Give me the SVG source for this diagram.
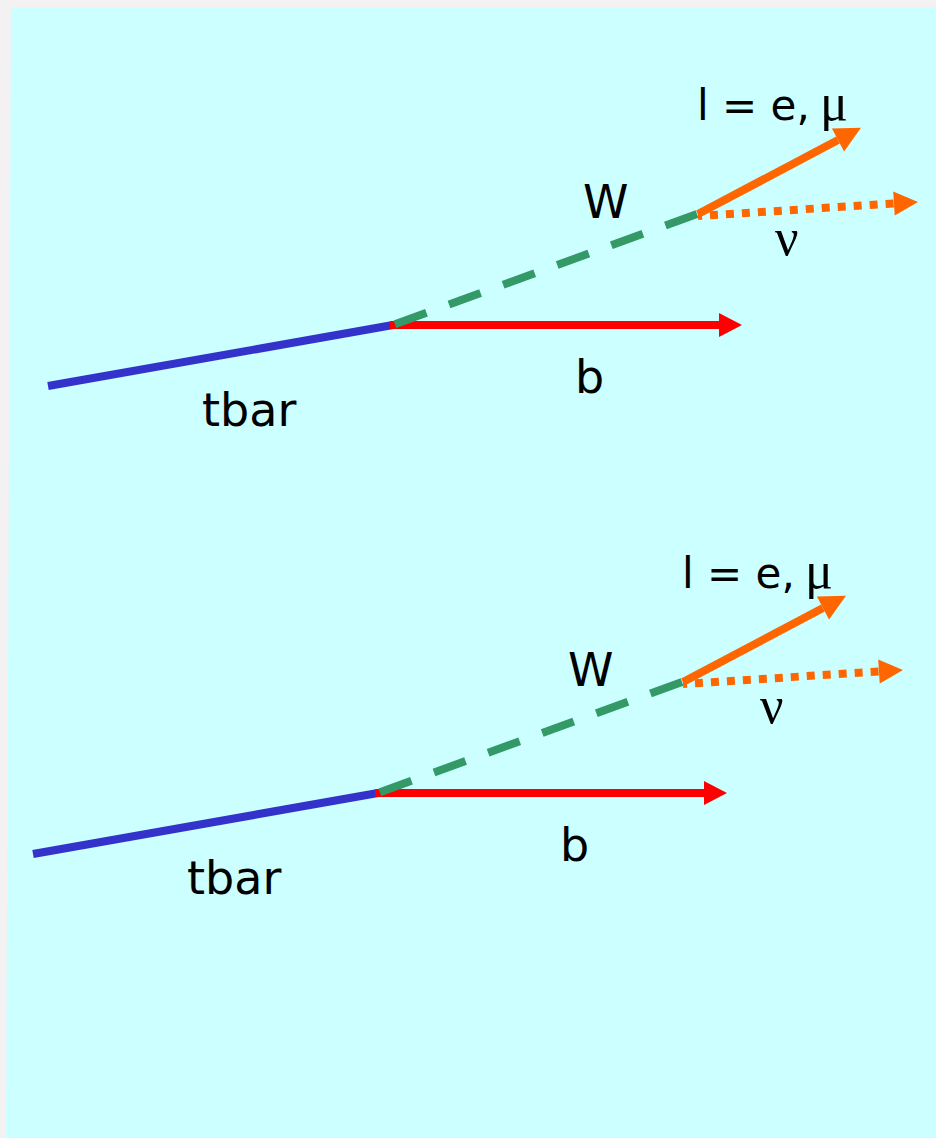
<svg xmlns="http://www.w3.org/2000/svg" xmlns:xlink="http://www.w3.org/1999/xlink" width="936" height="1138" viewBox="0 0 936 1138">
<style>
.t{fill:#000;font-family:"DejaVu Sans","Noto Sans",sans-serif;font-size:46px}
.e{font-size:42px}
.g{font-family:"Liberation Serif","DejaVu Serif",serif;font-size:52px}
.top{stroke:#3333CC;stroke-width:8;fill:none}
.b{stroke:#FF0000;stroke-width:8;fill:none}
.w{stroke:#339966;stroke-width:8;fill:none;stroke-dasharray:33.6 24}
.l{stroke:#FF6600;stroke-width:8;fill:none}
.n{stroke:#FF6600;stroke-width:8;fill:none;stroke-dasharray:8 8;stroke-dashoffset:4}
</style>
<defs>
<marker id="hr" markerUnits="userSpaceOnUse" markerWidth="24" markerHeight="24" refX="0" refY="12" orient="auto" overflow="visible"><path d="M0,0 L23,12 L0,24 Z" fill="#FF0000"/></marker>
<marker id="ho" markerUnits="userSpaceOnUse" markerWidth="27" markerHeight="26" refX="0" refY="13" orient="auto" overflow="visible"><path d="M0,0 L26,13 L0,26 Z" fill="#FF6600"/></marker>
<marker id="hn" markerUnits="userSpaceOnUse" markerWidth="25" markerHeight="24" refX="0" refY="12" orient="auto" overflow="visible"><path d="M0,0 L24,12 L0,24 Z" fill="#FF6600"/></marker>
</defs>
<rect x="0" y="0" width="936" height="1138" fill="#F3F1F2"/>
<polygon points="11,7 936,7 936,1138 6,1138" fill="#CCFFFF"/>
<g id="diagram1">
<g id="connectors1">
<line class="top" x1="48" y1="386" x2="393" y2="325"/>
<line class="b" x1="390" y1="325" x2="719" y2="325" marker-end="url(#hr)"/>
<line class="w" x1="697" y1="214" x2="393" y2="325"/>
<line class="n" x1="698" y1="216" x2="894" y2="203.5" marker-end="url(#hn)"/>
<line class="l" x1="698" y1="214" x2="838" y2="140" marker-end="url(#ho)"/>
</g>
<g id="lepton1"><text class="t e" x="697" y="120">l = e,</text><text class="t g" x="820" y="120">μ</text></g>
<g id="W1"><text class="t" x="583" y="218">W</text></g>
<g id="nu1"><text class="t g" x="775" y="255">ν</text></g>
<g id="b1"><text class="t" x="575" y="393">b</text></g>
<g id="tbar1"><text class="t" x="202" y="426">tbar</text></g>
</g>
<g id="diagram2" transform="translate(-15,468)">
<g id="connectors2">
<line class="top" x1="48" y1="386" x2="393" y2="325"/>
<line class="b" x1="390" y1="325" x2="719" y2="325" marker-end="url(#hr)"/>
<line class="w" x1="697" y1="214" x2="393" y2="325"/>
<line class="n" x1="698" y1="216" x2="894" y2="203.5" marker-end="url(#hn)"/>
<line class="l" x1="698" y1="214" x2="838" y2="140" marker-end="url(#ho)"/>
</g>
<g id="lepton2"><text class="t e" x="697" y="120">l = e,</text><text class="t g" x="820" y="120">μ</text></g>
<g id="W2"><text class="t" x="583" y="218">W</text></g>
<g id="nu2"><text class="t g" x="775" y="255">ν</text></g>
<g id="b2"><text class="t" x="575" y="393">b</text></g>
<g id="tbar2"><text class="t" x="202" y="426">tbar</text></g>
</g>
</svg>
